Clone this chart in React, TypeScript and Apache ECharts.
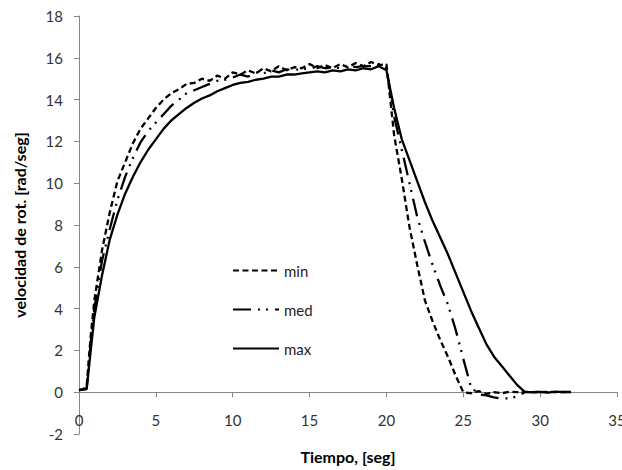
import React, { useEffect, useRef } from "react";
import * as echarts from "echarts";

const time = [
  0, 0.25, 0.5, 0.75, 1, 1.5, 2, 2.5, 3, 3.5, 4, 4.5, 5, 5.5, 6, 6.5, 7, 7.5, 8, 8.5, 9, 9.5,
  10, 10.5, 11, 11.5, 12, 12.5, 13, 13.5, 14, 14.5, 15, 15.5, 16, 16.5, 17, 17.5, 18, 18.5,
  19, 19.5, 20, 20.5, 21, 21.5, 22, 22.5, 23, 23.5, 24, 24.5, 25, 25.5, 26, 26.5, 27, 27.5,
  28, 28.5, 29, 29.5, 30, 30.5, 31, 31.5, 32,
];

const minValues = [
  0.1, 0.15, 0.3, 2.6, 4.4, 6.8, 8.6, 10.1, 11.0, 11.9, 12.6, 13.1, 13.6, 14.0, 14.3, 14.5,
  14.75, 14.8, 15.0, 14.9, 15.15, 15.0, 15.3, 15.2, 15.4, 15.25, 15.5, 15.35, 15.6, 15.4,
  15.55, 15.5, 15.7, 15.5, 15.65, 15.5, 15.7, 15.55, 15.75, 15.6, 15.8, 15.65, 15.7, 12.3,
  10.2, 7.9, 6.1, 4.4, 3.4, 2.5, 1.7, 0.8, 0.0, -0.05, 0.05, -0.08, 0.0, -0.05, 0.02, 0.0,
  0.02, 0.0, 0.0, 0.02, 0.0, 0.01, 0.0,
];

const medValues = [
  0.1, 0.12, 0.2, 2.3, 4.0, 6.3, 7.8, 9.2, 10.3, 11.2, 11.95, 12.5, 12.9, 13.3, 13.7, 14.0,
  14.3, 14.45, 14.6, 14.75, 14.9, 14.95, 15.05, 15.2, 15.1, 15.3, 15.25, 15.4, 15.3, 15.45,
  15.4, 15.5, 15.45, 15.6, 15.5, 15.55, 15.5, 15.65, 15.55, 15.6, 15.6, 15.7, 15.5, 13.2,
  11.6, 10.0, 8.4, 7.2, 6.1, 5.1, 4.2, 3.0, 1.6, 0.25, -0.1, -0.15, -0.25, -0.3, -0.3, -0.2,
  0.0, 0.0, 0.02, 0.0, 0.0, 0.02, 0.0,
];

const maxValues = [
  0.1, 0.12, 0.15, 1.9, 3.6, 5.6, 7.3, 8.5, 9.5, 10.3, 11.0, 11.6, 12.1, 12.6, 13.0, 13.3,
  13.6, 13.85, 14.05, 14.2, 14.4, 14.55, 14.7, 14.8, 14.85, 14.95, 15.0, 15.1, 15.1, 15.2,
  15.2, 15.25, 15.3, 15.35, 15.3, 15.4, 15.35, 15.45, 15.4, 15.5, 15.45, 15.6, 15.4, 13.6,
  12.1, 11.1, 10.1, 9.1, 8.2, 7.4, 6.6, 5.7, 4.8, 3.9, 3.1, 2.3, 1.7, 1.25, 0.8, 0.35, 0.02,
  0.0, 0.02, -0.02, 0.03, 0.0, 0.02,
];

const seriesNames = ["min", "med", "max"];
const xTitle = "Tiempo, [seg]";
const yTitle = "velocidad de rot. [rad/seg]";

const FONT = "Lato, 'Open Sans', sans-serif";

const Y_MIN = -2;
const Y_MAX = 18;
const GRID_TOP = 16;
const GRID_BOTTOM = 36;
const HEIGHT = 470;

export default function App() {
  const ref = useRef<HTMLDivElement>(null);

  useEffect(() => {
    if (!ref.current) return;
    const chart = echarts.init(ref.current, null, { renderer: "svg" });
    const pairs = (vals: number[]) => time.map((t, i) => [t, vals[i]]);
    const dashTypes: any[] = [[6, 3.5], [18, 7, 2, 6, 2, 7], "solid"];
    const values = [minValues, medValues, maxValues];
    const plotH = HEIGHT - GRID_TOP - GRID_BOTTOM;
    const zeroOffset = -((0 - Y_MIN) / (Y_MAX - Y_MIN)) * plotH;

    chart.setOption({
      animation: false,
      backgroundColor: "#ffffff",
      grid: {
        left: 79,
        right: 5,
        top: GRID_TOP,
        bottom: GRID_BOTTOM,
        containLabel: false,
        outerBoundsMode: "none",
      },
      legend: {
        orient: "vertical",
        left: 227,
        top: 258,
        itemWidth: 46,
        itemHeight: 14,
        itemGap: 24,
        itemStyle: { opacity: 0 },
        textStyle: { fontFamily: FONT, fontSize: 15, color: "#222" },
        data: seriesNames,
      },
      xAxis: {
        type: "value",
        min: 0,
        max: 35,
        interval: 5,
        position: "bottom",
        offset: zeroOffset,
        splitLine: { show: false },
        axisLine: { onZero: false, lineStyle: { color: "#868686", width: 1 } },
        axisTick: { show: true, inside: false, length: 5, lineStyle: { color: "#868686" } },
        axisLabel: { margin: 20, fontFamily: FONT, fontSize: 15, color: "#333" },
        name: xTitle,
        nameLocation: "middle",
        nameGap: 56,
        nameTextStyle: { fontFamily: FONT, fontSize: 16, fontWeight: "bold", color: "#000" },
      },
      yAxis: {
        type: "value",
        min: Y_MIN,
        max: Y_MAX,
        interval: 2,
        splitLine: { show: false },
        axisLine: { show: true, onZero: false, lineStyle: { color: "#868686", width: 1 } },
        axisTick: { show: true, inside: false, length: 5, lineStyle: { color: "#868686" } },
        axisLabel: { margin: 16, fontFamily: FONT, fontSize: 15, color: "#333" },
        name: yTitle,
        nameLocation: "middle",
        nameGap: 52,
        nameRotate: 90,
        nameTextStyle: { fontFamily: FONT, fontSize: 16, fontWeight: "bold", color: "#000" },
      },
      series: seriesNames.map((name, k) => ({
        name,
        type: "line",
        data: pairs(values[k]),
        showSymbol: false,
        symbol: "none",
        smooth: false,
        lineStyle: { color: "#000", width: 2.3, type: dashTypes[k] },
        itemStyle: { color: "#000" },
      })),
    });

    return () => chart.dispose();
  }, []);

  return (
    <div
      ref={ref}
      style={{ position: "fixed", left: 0, top: 0, width: 622, height: 470 }}
    />
  );
}
